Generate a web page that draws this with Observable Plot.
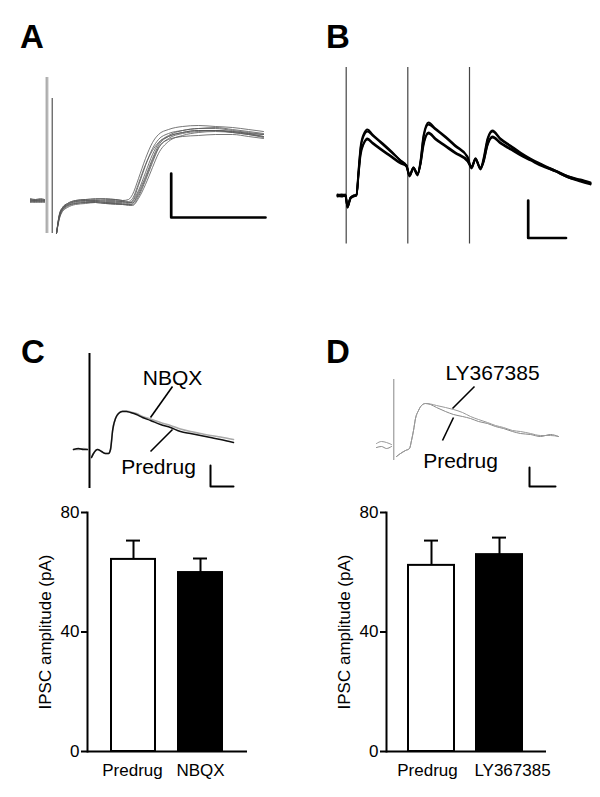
<!DOCTYPE html>
<html><head><meta charset="utf-8">
<script src="https://cdn.jsdelivr.net/npm/d3@7"></script>
<script src="https://cdn.jsdelivr.net/npm/@observablehq/plot@0.6"></script>
<style>
body{margin:0;background:#fff;}
#fig{position:relative;width:600px;height:797px;overflow:hidden;background:#fff;font-family:Arial,"Liberation Sans",Helvetica,sans-serif;}
.letter{position:absolute;font-weight:bold;font-size:33px;line-height:1;color:#000;}
</style></head><body><div id="fig"></div>
<script>
// ---------- Panel letters ----------
const panelLetters = ["A", "B", "C", "D"];

// ---------- Panel A: superimposed traces (time t; amplitude v) ----------
const tA = [0,5,10,14, 26,29,32,37,45,55,65,75,85,92,98,102,108,115,122,128,138,152,168,185,202,218,233];
const tracesA = [
  [1,0,1,0,-33,-14,-7,-3,0,1,2,2,1,0,1,6,22,42,58,66,71,74,75,74,73,71,69],
  [-2,-1,-2,-1,-33,-17,-10,-6,-3,-2,-2,-3,-3,-4,-4,-3,8,24,42,55,64,68,70,70,68,66,63],
  [0,1,0,1,-33,-15,-8,-4,-1,0,1,0,0,-1,-2,0,15,35,52,61,67,70,72,72,70,68,66],
  [-1,-2,-1,-2,-33,-18,-11,-7,-4,-3,-2,-3,-4,-4,-5,-5,2,16,33,47,59,65,68,69,68,66,64],
  [2,1,2,1,-33,-13,-7,-3,0,1,0,1,1,0,-1,2,17,36,50,58,64,68,70,70,69,67,64],
  [-1,0,-1,0,-33,-16,-9,-5,-2,-1,-1,-2,-2,-2,-3,-1,10,28,46,57,65,70,72,73,71,69,67],
  [0,-1,0,-1,-33,-15,-9,-5,-3,-2,-1,-2,-3,-3,-4,-4,4,20,38,52,62,67,69,70,69,67,66],
  [1,0,1,0,-33,-14,-8,-4,-1,0,0,-1,-1,-1,-2,-2,6,22,40,53,61,64,65,66,66,64,62]
];
const spikesA = [{t:15.7, lo:-33, hi:123, c:"#888"}, {t:17.3, lo:-33, hi:123, c:"#999"}, {t:21.7, lo:-33, hi:102, c:"#333"}];
const scaleA = {t:140.7, v:-17, dt:94.3, dv:44};

// ---------- Panel B: train of three responses ----------
const tB = [2,6,10,12,15,18,21,23,25,28,32,37,45,55,65,71,74,78,82,85,88,93,100,110,120,132,136,140,145,148,152,157,165,175,185,195,207,220,233,245,255];
const tracesB = [
  [0,1,0,-12,-2,0,1,25,48,61,66,61,54,45,35,30, 20,28,21,35,60,73,67,59,50,39, 28,37,27,37,57,65,57,50,43,37,31,25,19,15,12],
  [-1,0,1,-10,-3,-1,0,23,46,59,64,60,53,44,35,29, 19,27,20,33,58,71,66,58,49,38, 27,36,26,35,55,64,56,49,42,36,30,24,18,14,11],
  [1,0,-1,-11,-2,-1,1,21,42,52,57,53,47,40,33,30, 21,28,22,32,52,63,57,50,43,35, 29,37,28,34,51,59,53,47,41,36,30,25,19,16,13],
  [0,-1,0,-12,-3,0,0,20,40,51,56,52,46,39,32,29, 20,27,21,31,50,62,56,49,42,34, 28,36,27,33,50,58,52,46,40,35,29,24,18,15,12]
];
const spikesB = [{t:10.7, lo:-48.5, hi:128}, {t:72.3, lo:-48.5, hi:128}, {t:134, lo:-48.5, hi:128}];
const scaleB = {t:192.7, v:-42.5, dt:37.8, dv:37.5};

// ---------- Panel C: Predrug vs NBQX ----------
const tC = [0,5,10,14, 18,20,24,28,32,35,37,38,39,40, 42,45,49,53,57,63,69,77,87,97, 107,117,127,137,147,160];
const predrugC = [0,1,0,0, -8,-4,0,-2,-4,-4,0,8,18,24, 31,36,38,38,37,35,32,29,25,22, 18,16,14,12,10,7];
const nbqxC = [0,0,1,0, -8,-4,0,-2,-4,-4,0,8,18,24, 31,36,38.5,38.5,37.5,36,33,30.5,27,24, 20.5,18,16,14,12.5,10];
const spikeC = [{t:16, lo:-39, hi:96}];
const labelsC = [{label:"NBQX", t:99, v:71.7}, {label:"Predrug", t:85, v:-17.3}];
const leadersC = [{t1:99, v1:63, t2:77, v2:32}, {t1:77, v1:-2, t2:99, v2:20}];
const scaleC = {t:137, v:-37, dt:23, dv:21};

// ---------- Panel D: Predrug vs LY367385 ----------
const tD = [0,5,10,15, 20,24,29,33,35,37,39,42,45,49,54,60, 69,77,86,94,102,111,119,127,136,144,154,164,174,182];
const lyD = [2,4,3,1, -11,-8,-5,-3,5,15,27,35,40,42,41.5,40, 38,36,33,29,26,23,20,18,15,14,12,10,10,9];
const predrugD = [-2,-1,-3,-1, -11,-8,-5,-3,5,15,27,35,40,42,41,38, 34,31,29,27,24,22,19,17,14,12,11,9,11,9];
const spikeD = [{t:17.3, lo:-15, hi:66}];
const labelsD = [{label:"LY367385", t:116, v:72.7}, {label:"Predrug", t:84, v:-15.3}];
const leadersD = [{t1:98, v1:59, t2:76, v2:37}, {t1:66, v1:5, t2:77, v2:28}];
const scaleD = {t:153, v:-41, dt:26, dv:19};

// ---------- Bar charts ----------
const catsC = ["Predrug", "NBQX"];
const meansC = [64.3, 59.9];
const semsC = [6.3, 4.7];
const catsD = ["Predrug", "LY367385"];
const meansD = [62.3, 65.9];
const semsD = [8.3, 5.7];
const barFills = ["white", "black"];
const yTicks = [0, 40, 80];
const yLabel = ["IPSC amplitude (pA)"];

const FONT = "Arial, 'Liberation Sans', Helvetica, sans-serif";
const fig = document.getElementById("fig");

function place(svg, left, top) {
  svg.style.position = "absolute";
  svg.style.left = left + "px";
  svg.style.top = top + "px";
  fig.appendChild(svg);
}

// letters
const letterPos = [[20, 20], [326, 20], [21, 335], [326, 335]];
panelLetters.forEach((L, i) => {
  const d = document.createElement("div");
  d.className = "letter";
  d.textContent = L;
  d.style.left = letterPos[i][0] + "px";
  d.style.top = letterPos[i][1] + "px";
  fig.appendChild(d);
});

function toPoints(ts, vals, id, gapAt) {
  return ts.map((t, i) => ({t, v: vals[i], z: id + "-" + (t < gapAt ? 0 : 1)}));
}
function scaleBarPts(s) {
  return [{t: s.t, v: s.v + s.dv}, {t: s.t, v: s.v}, {t: s.t + s.dt, v: s.v}];
}
function tracePlot(o) {
  return Plot.plot({
    width: o.width, height: o.height, margin: 0,
    style: {background: "none", overflow: "visible", fontFamily: FONT, color: "black"},
    x: {type: "linear", domain: o.xd, range: o.xr, axis: null},
    y: {type: "linear", domain: o.yd, range: o.yr, axis: null},
    marks: o.marks
  });
}

// Panel A
const ptsA = tracesA.flatMap((vals, k) => toPoints(tA, vals, "a" + k, 20));
place(tracePlot({
  width: 300, height: 250, xd: [0, 270], xr: [30, 300], yd: [-50, 200], yr: [250, 0],
  marks: [
    Plot.ruleX(spikesA, {x: "t", y1: "lo", y2: "hi", stroke: "c", strokeWidth: 1}),
    Plot.line(ptsA, {x: "t", y: "v", z: "z", stroke: "#555", strokeWidth: 0.8, curve: "monotone-x"}),
    Plot.line(scaleBarPts(scaleA), {x: "t", y: "v", stroke: "black", strokeWidth: 2.7})
  ]
}), 0, 0);

// Panel B
const ptsB = tracesB.flatMap((vals, k) => toPoints(tB, vals, "b" + k, -1));
place(tracePlot({
  width: 300, height: 250, xd: [0, 265], xr: [35, 300], yd: [-55, 195], yr: [250, 0],
  marks: [
    Plot.ruleX(spikesB, {x: "t", y1: "lo", y2: "hi", stroke: "#444", strokeWidth: 1.2}),
    Plot.line(ptsB, {x: "t", y: "v", z: "z", stroke: "black", strokeWidth: 1.9, curve: "monotone-x"}),
    Plot.line(scaleBarPts(scaleB), {x: "t", y: "v", stroke: "black", strokeWidth: 2.7})
  ]
}), 300, 0);

// Panel C traces
place(tracePlot({
  width: 300, height: 165, xd: [0, 227], xr: [73, 300], yd: [-46, 119], yr: [165, 0],
  marks: [
    Plot.ruleX(spikeC, {x: "t", y1: "lo", y2: "hi", stroke: "black", strokeWidth: 2}),
    Plot.line(toPoints(tC, nbqxC, "n", 16), {x: "t", y: "v", z: "z", stroke: "#aaa", strokeWidth: 1.6, curve: "monotone-x"}),
    Plot.line(toPoints(tC, predrugC, "p", 16), {x: "t", y: "v", z: "z", stroke: "#111", strokeWidth: 1.5, curve: "monotone-x"}),
    Plot.link(leadersC, {x1: "t1", y1: "v1", x2: "t2", y2: "v2", stroke: "black", strokeWidth: 1.6}),
    Plot.text(labelsC, {x: "t", y: "v", text: "label", fontSize: 21, textAnchor: "middle", lineAnchor: "middle", fill: "black"}),
    Plot.line(scaleBarPts(scaleC), {x: "t", y: "v", stroke: "black", strokeWidth: 2})
  ]
}), 0, 330);

// Panel D traces
place(tracePlot({
  width: 300, height: 165, xd: [0, 224], xr: [76, 300], yd: [-50, 115], yr: [165, 0],
  marks: [
    Plot.ruleX(spikeD, {x: "t", y1: "lo", y2: "hi", stroke: "#888", strokeWidth: 1}),
    Plot.line(toPoints(tD, predrugD, "p", 17), {x: "t", y: "v", z: "z", stroke: "#888", strokeWidth: 1, curve: "monotone-x"}),
    Plot.line(toPoints(tD, lyD, "l", 17), {x: "t", y: "v", z: "z", stroke: "#999", strokeWidth: 1, curve: "monotone-x"}),
    Plot.link(leadersD, {x1: "t1", y1: "v1", x2: "t2", y2: "v2", stroke: "black", strokeWidth: 1.6}),
    Plot.text(labelsD, {x: "t", y: "v", text: "label", fontSize: 21, textAnchor: "middle", lineAnchor: "middle", fill: "black"}),
    Plot.line(scaleBarPts(scaleD), {x: "t", y: "v", stroke: "black", strokeWidth: 2})
  ]
}), 300, 330);

// Bar charts
function barPlot(o) {
  const rows = o.cats.map((c, i) => ({cat: c, mean: o.means[i], top: o.means[i] + o.sems[i], fill: barFills[i], dx: o.labelDx[i]}));
  return Plot.plot({
    width: 300, height: 300, marginTop: 22, marginBottom: 39, marginLeft: o.ml, marginRight: o.mr,
    style: {background: "none", overflow: "visible", fontFamily: FONT, fontSize: "17px", color: "black"},
    x: {type: "band", domain: o.cats, range: o.xr, paddingInner: o.pi, paddingOuter: 0, axis: null},
    y: {domain: [0, 80], axis: null},
    color: {type: "identity"},
    marks: [
      Plot.barY(rows, {x: "cat", y: "mean", fill: "fill", stroke: "black", strokeWidth: 2}),
      Plot.ruleX(rows, {x: "cat", y1: "mean", y2: "top", stroke: "black", strokeWidth: 2}),
      Plot.tickY(rows, {x: "cat", y: "top", stroke: "black", strokeWidth: 2, insetLeft: o.capInset, insetRight: o.capInset}),
      Plot.frame({anchor: "left", stroke: "black", strokeWidth: 2}),
      Plot.ruleY([0], {stroke: "black", strokeWidth: 2}),
      Plot.axisY({ticks: yTicks, tickSize: 6, tickPadding: 2, strokeWidth: 2, fontSize: 17, label: null}),
      ...rows.map(r => Plot.text([r], {x: "cat", text: "cat", frameAnchor: "bottom", lineAnchor: "top", dy: 12, dx: r.dx, fontSize: 17, fill: "black"})),
      Plot.text(yLabel, {frameAnchor: "left", rotate: -90, dx: -42, fontSize: 17, textAnchor: "middle", lineAnchor: "middle", fill: "black"})
    ]
  });
}
place(barPlot({cats: catsC, means: meansC, sems: semsC, ml: 87, mr: 53, xr: [110, 223], pi: 0.338, capInset: 15, labelDx: [-1, 0]}), 0, 490);
place(barPlot({cats: catsD, means: meansD, sems: semsD, ml: 86, mr: 54, xr: [108, 223], pi: 0.321, capInset: 16, labelDx: [-4, 13]}), 300, 490);
</script></body></html>
